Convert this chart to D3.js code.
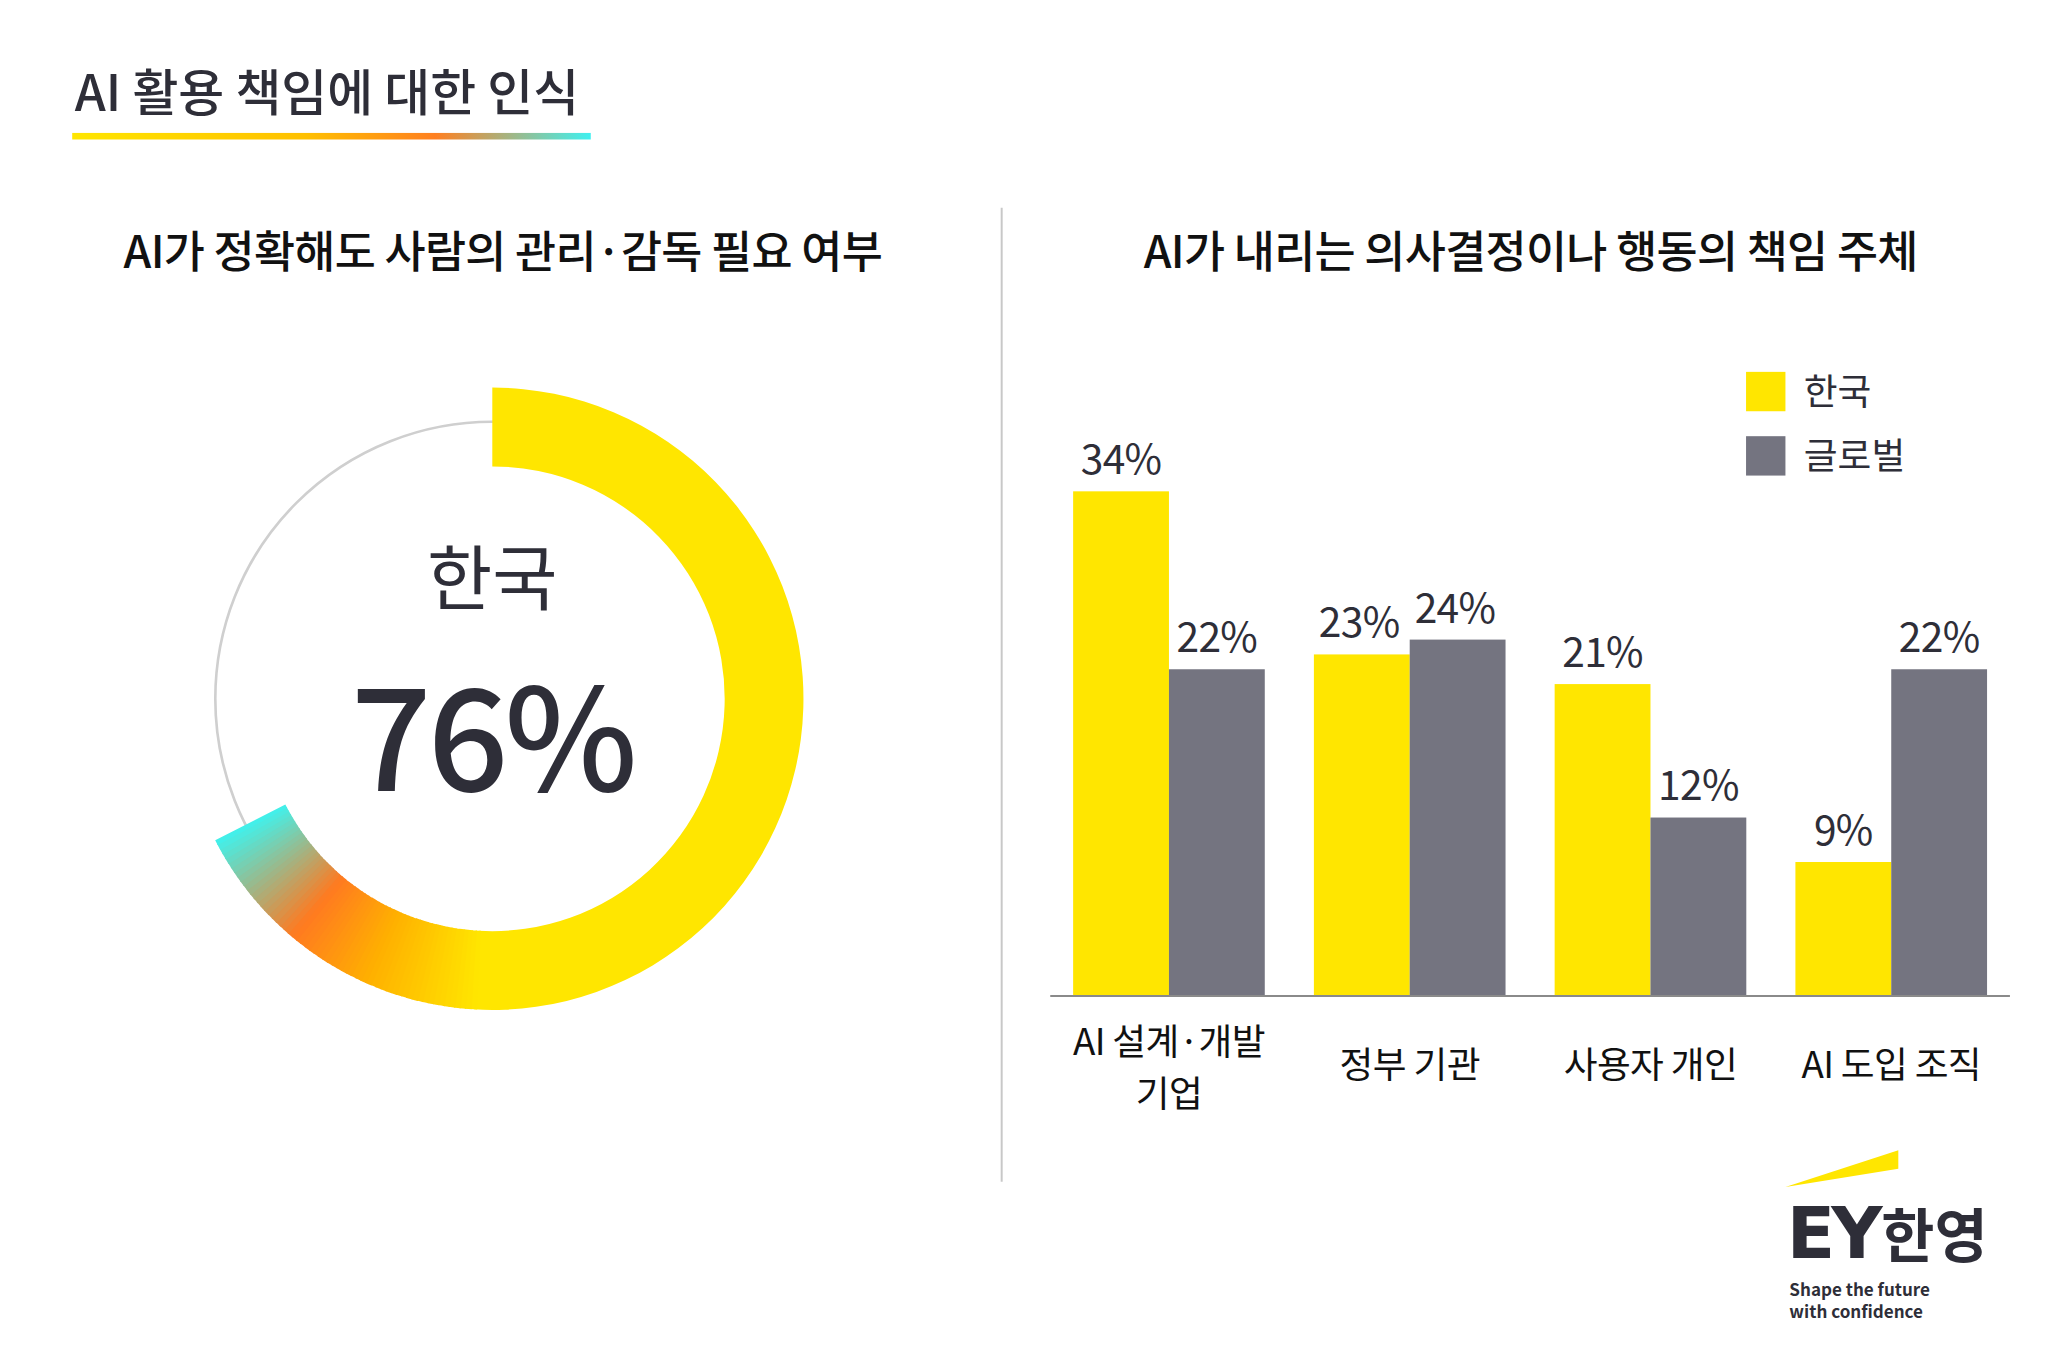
<!DOCTYPE html>
<html><head><meta charset="utf-8">
<script src="https://cdn.jsdelivr.net/npm/d3@7"></script>
<style>body{margin:0;background:#fff}svg{display:block;font-family:"Noto Sans CJK KR","Noto Sans",sans-serif}</style>
</head><body>
<svg id="chart" width="2048" height="1366" viewBox="0 0 1560 1040"></svg>
<script>
// data
var donutLabel = "한국";
var donutValue = 76;
var categories = [["AI 설계·개발", "기업"], ["정부 기관"], ["사용자 개인"], ["AI 도입 조직"]];
var seriesNames = ["한국", "글로벌"];
var korea = [34, 23, 21, 9];
var global = [22, 24, 12, 22];

var yellow = "#FFE600", grey = "#747480", ink = "#2E2E38";
var svg = d3.select("#chart");

// title + gradient underline
svg.append("text").attr("x", 57).attr("y", 84).attr("font-size", 38).attr("font-weight", 500)
    .attr("fill", ink).text("AI 활용 책임에 대한 인식");
var defs = svg.append("defs");
var lg = defs.append("linearGradient").attr("id", "ul");
[[0, yellow], [0.45, "#FFC000"], [0.7, "#FF7F20"], [1, "#3FF0F0"]].forEach(function(s) {
    lg.append("stop").attr("offset", s[0]).attr("stop-color", s[1]);
});
svg.append("rect").attr("x", 55).attr("y", 101).attr("width", 395).attr("height", 5).attr("fill", "url(#ul)");

// divider
svg.append("line").attr("x1", 763).attr("x2", 763).attr("y1", 158).attr("y2", 900)
    .attr("stroke", "#c8c8c8").attr("stroke-width", 1.5);

// subtitles
svg.append("text").attr("x", 383).attr("y", 204).attr("text-anchor", "middle").attr("font-size", 34)
    .attr("font-weight", 500).attr("fill", "#111").attr("letter-spacing", -0.5).text("AI가 정확해도 사람의 관리·감독 필요 여부");
svg.append("text").attr("x", 1166).attr("y", 204).attr("text-anchor", "middle").attr("font-size", 34)
    .attr("font-weight", 500).attr("fill", "#111").attr("letter-spacing", -0.5).text("AI가 내리는 의사결정이나 행동의 책임 주체");

// donut
var cx = 375, cy = 532;
var g = svg.append("g").attr("transform", "translate(" + cx + "," + cy + ")");
g.append("circle").attr("r", 211).attr("fill", "none").attr("stroke", "#cfcfcf").attr("stroke-width", 2);
var angle = d3.scaleLinear().domain([0, 100]).range([0, 2 * Math.PI * 0.888]);
var arc = d3.arc().innerRadius(177).outerRadius(237);
var end = angle(donutValue);
var tail = 1.05; // radians of gradient at the end
g.append("path").attr("d", arc({startAngle: 0, endAngle: end - tail + 0.01})).attr("fill", yellow);
var col = d3.scaleLinear().domain([0, 0.35, 0.62, 1]).range([yellow, "#FFB000", "#FF7A20", "#3FF2EE"]);
var n = 60;
for (var i = 0; i < n; i++) {
    var a0 = end - tail + tail * i / n, a1 = end - tail + tail * (i + 1) / n + 0.005;
    g.append("path").attr("d", arc({startAngle: a0, endAngle: Math.min(a1, end)}))
        .attr("fill", col((i + 0.5) / n));
}
g.append("text").attr("y", -72).attr("text-anchor", "middle").attr("font-size", 54)
    .attr("fill", ink).text(donutLabel);
g.append("text").attr("y", 70).attr("text-anchor", "middle").attr("font-size", 108)
    .attr("font-weight", 500).attr("letter-spacing", -3).attr("fill", ink).text(donutValue + "%");

// bars
var x0 = d3.scaleBand().domain(d3.range(categories.length)).range([800, 1531])
    .paddingInner(0.204).paddingOuter(0.095);
var x1 = d3.scaleBand().domain([0, 1]).range([0, x0.bandwidth()]);
var y = d3.scaleLinear().domain([0, 34]).range([758, 374]);
var rows = [];
categories.forEach(function(c, i) {
    rows.push({i: i, s: 0, v: korea[i]});
    rows.push({i: i, s: 1, v: global[i]});
});
var bars = svg.append("g");
bars.selectAll("rect").data(rows).enter().append("rect")
    .attr("x", function(d) { return x0(d.i) + x1(d.s); })
    .attr("y", function(d) { return y(d.v); })
    .attr("width", x1.bandwidth())
    .attr("height", function(d) { return y(0) - y(d.v); })
    .attr("fill", function(d) { return d.s ? grey : yellow; });
bars.selectAll("text").data(rows).enter().append("text")
    .attr("x", function(d) { return x0(d.i) + x1(d.s) + x1.bandwidth() / 2 - (d.i == 1 ? 2 : 0); })
    .attr("y", function(d) { return y(d.v) - 13; })
    .attr("text-anchor", "middle").attr("font-size", 31).attr("letter-spacing", -0.5).attr("fill", ink)
    .text(function(d) { return d.v + "%"; });
svg.append("line").attr("x1", 800).attr("x2", 1531).attr("y1", 758.5).attr("y2", 758.5)
    .attr("stroke", "#8a8a8a").attr("stroke-width", 1.5);

// category labels
categories.forEach(function(c, i) {
    var t = svg.append("text").attr("text-anchor", "middle").attr("font-size", 28).attr("fill", "#111")
        .attr("letter-spacing", -0.5).attr("x", x0(i) + x0.bandwidth() / 2);
    if (c.length == 1) t.attr("y", 821).text(c[0]);
    else c.forEach(function(s, k) {
        t.append("tspan").attr("x", x0(i) + x0.bandwidth() / 2).attr("y", 803 + k * 40).text(s);
    });
});

// legend
seriesNames.forEach(function(s, k) {
    svg.append("rect").attr("x", 1330).attr("y", 283 + k * 49).attr("width", 30).attr("height", 30)
        .attr("fill", k ? grey : yellow);
    svg.append("text").attr("x", 1374).attr("y", 308 + k * 49).attr("font-size", 28).attr("fill", ink).text(s);
});

// logo
svg.append("polygon").attr("points", "1360,904 1446,876 1446,890").attr("fill", yellow);
svg.append("text").attr("x", 1361).attr("y", 958).attr("font-size", 54).attr("font-weight", 900)
    .attr("font-family", "'DejaVu Sans',sans-serif").attr("letter-spacing", -3).attr("fill", ink).text("EY");
svg.append("text").attr("x", 1433).attr("y", 957).attr("font-size", 44).attr("font-weight", 700)
    .attr("fill", ink).text("한영");
svg.append("text").attr("x", 1363).attr("y", 987).attr("font-size", 13).attr("font-weight", 700)
    .attr("fill", ink).text("Shape the future");
svg.append("text").attr("x", 1363).attr("y", 1004).attr("font-size", 13).attr("font-weight", 700)
    .attr("fill", ink).text("with confidence");
</script>
</body></html>
